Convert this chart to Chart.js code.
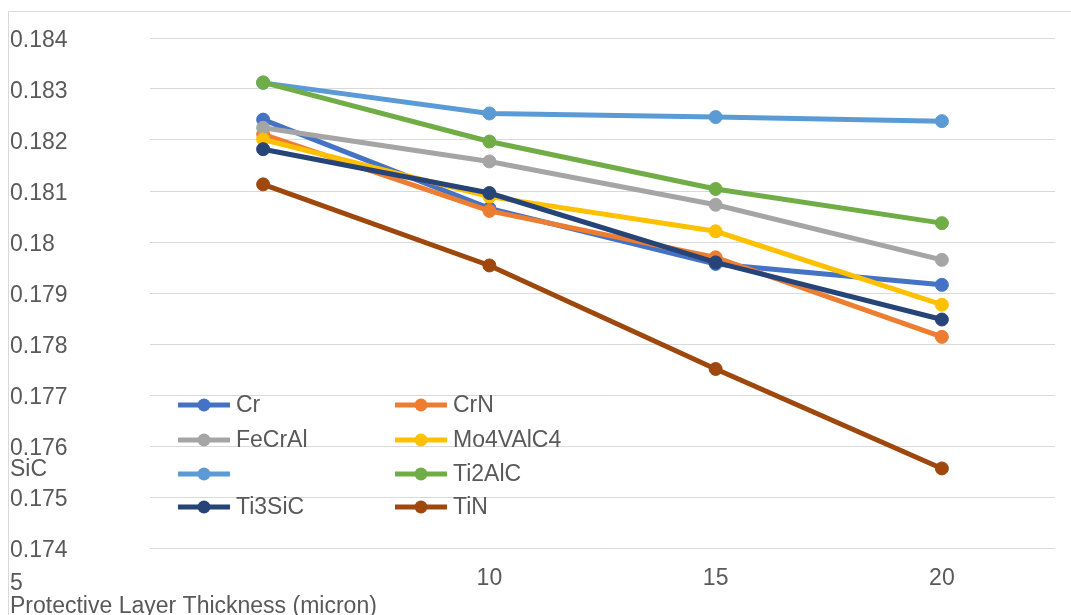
<!DOCTYPE html>
<html>
<head>
<meta charset="utf-8">
<script src="https://cdn.jsdelivr.net/npm/chart.js@4.4.1/dist/chart.umd.min.js"></script>
<style>
    html, body { margin: 0; padding: 0; background: #fff; }
    #wrap { width: 1071px; height: 615px; position: relative; }
</style>
</head>
<body>
<div id="wrap"><canvas id="myChart" width="1071" height="615"></canvas></div>
<script>
// x categories (protective layer thickness, micron)
const thickness = ["5", "10", "15", "20"];

// series names + Excel style colours
const seriesNames = ["Cr", "CrN", "FeCrAl", "Mo4VAlC4", "SiC", "Ti2AlC", "Ti3SiC", "TiN"];
const seriesColors = ["#4472C4", "#ED7D31", "#A5A5A5", "#FFC000", "#5B9BD5", "#70AD47", "#264478", "#9E480E"];

// values
const cr       = [0.18240, 0.18066, 0.17957, 0.17916];
const crN      = [0.18211, 0.18061, 0.17970, 0.17814];
const feCrAl   = [0.18224, 0.18158, 0.18073, 0.17965];
const mo4VAlC4 = [0.18201, 0.18089, 0.18021, 0.17877];
const siC      = [0.18312, 0.18252, 0.18245, 0.18237];
const ti2AlC   = [0.18313, 0.18197, 0.18104, 0.18037];
const ti3SiC   = [0.18182, 0.18096, 0.17960, 0.17848];
const tiN      = [0.18113, 0.17954, 0.17751, 0.17556];

// y axis range / ticks
const yMin = 0.174;
const yMax = 0.184;
const yStep = 0.001;

const seriesValues = [cr, crN, feCrAl, mo4VAlC4, siC, ti2AlC, ti3SiC, tiN];
const xTitle = "Protective Layer Thickness (micron)";

const textColor = "#595959";
const gridColor = "#d9d9d9";
const fontFamily = '"Liberation Sans", Arial, sans-serif';
const fontSize = 23;

// 테두리, 범례, 어긋난 라벨들을 직접 그림
const extrasPlugin = {
    id: "extras",
    beforeDraw(chart) {
        const ctx = chart.ctx;
        ctx.save();
        ctx.strokeStyle = gridColor;
        ctx.lineWidth = 1;
        ctx.strokeRect(8.5, 11.5, chart.width + 10, chart.height + 10);
        ctx.restore();
    },
    afterDraw(chart) {
        const ctx = chart.ctx;
        ctx.save();
        ctx.font = fontSize + "px " + fontFamily;
        ctx.fillStyle = textColor;
        ctx.textAlign = "left";
        ctx.textBaseline = "middle";

        // legend inside the plot, two columns
        const colX = [178, 395];
        const rowY = [405, 440, 474, 507];
        chart.data.datasets.forEach((ds, i) => {
            const x0 = colX[i % 2];
            const y = rowY[Math.floor(i / 2)];
            ctx.strokeStyle = ds.borderColor;
            ctx.lineWidth = 5;
            ctx.beginPath();
            ctx.moveTo(x0, y);
            ctx.lineTo(x0 + 52, y);
            ctx.stroke();
            ctx.fillStyle = ds.borderColor;
            ctx.beginPath();
            ctx.arc(x0 + 26, y, 6.5, 0, Math.PI * 2);
            ctx.fill();
            ctx.fillStyle = textColor;
            if (ds.label !== "SiC") {
                ctx.fillText(ds.label, x0 + 58, y + 1);
            }
        });

        // these ended up at the left margin in the original
        ctx.fillText("SiC", 10, 470);
        ctx.fillText(thickness[0], 10, 584);
        ctx.fillText(xTitle, 10, 607);
        ctx.restore();
    }
};

const datasets = seriesNames.map((name, i) => ({
    label: name,
    data: seriesValues[i],
    borderColor: seriesColors[i],
    backgroundColor: seriesColors[i],
    pointBackgroundColor: seriesColors[i],
    pointBorderColor: seriesColors[i],
    borderWidth: 5,
    pointRadius: 6.5,
    pointBorderWidth: 1,
    tension: 0,
    order: seriesNames.length - i // later series on top, like Excel
}));

const ctx = document.getElementById("myChart").getContext("2d");
new Chart(ctx, {
    type: "line",
    data: { labels: thickness, datasets: datasets },
    options: {
        responsive: false,
        animation: false,
        layout: { padding: { left: 10, top: 38, right: 16, bottom: 0 } },
        plugins: {
            legend: { display: false },
            tooltip: { enabled: false }
        },
        scales: {
            x: {
                offset: true,
                grid: { display: false, drawTicks: false },
                border: { display: false },
                ticks: {
                    autoSkip: false,
                    maxRotation: 0,
                    padding: 17,
                    color: textColor,
                    font: { family: fontFamily, size: fontSize },
                    callback: (v, i) => (i === 0 ? "" : thickness[i])
                },
                afterFit: (scale) => { scale.height = 67; }
            },
            y: {
                min: yMin,
                max: yMax,
                grid: { color: gridColor, lineWidth: 1, drawTicks: false },
                border: { display: false },
                ticks: {
                    stepSize: yStep,
                    crossAlign: "far",
                    labelOffset: 3,
                    color: textColor,
                    font: { family: fontFamily, size: fontSize },
                    callback: (v) => parseFloat(v.toFixed(3)).toString()
                },
                afterFit: (scale) => { scale.width = 140; }
            }
        }
    },
    plugins: [extrasPlugin]
});
</script>
</body>
</html>
